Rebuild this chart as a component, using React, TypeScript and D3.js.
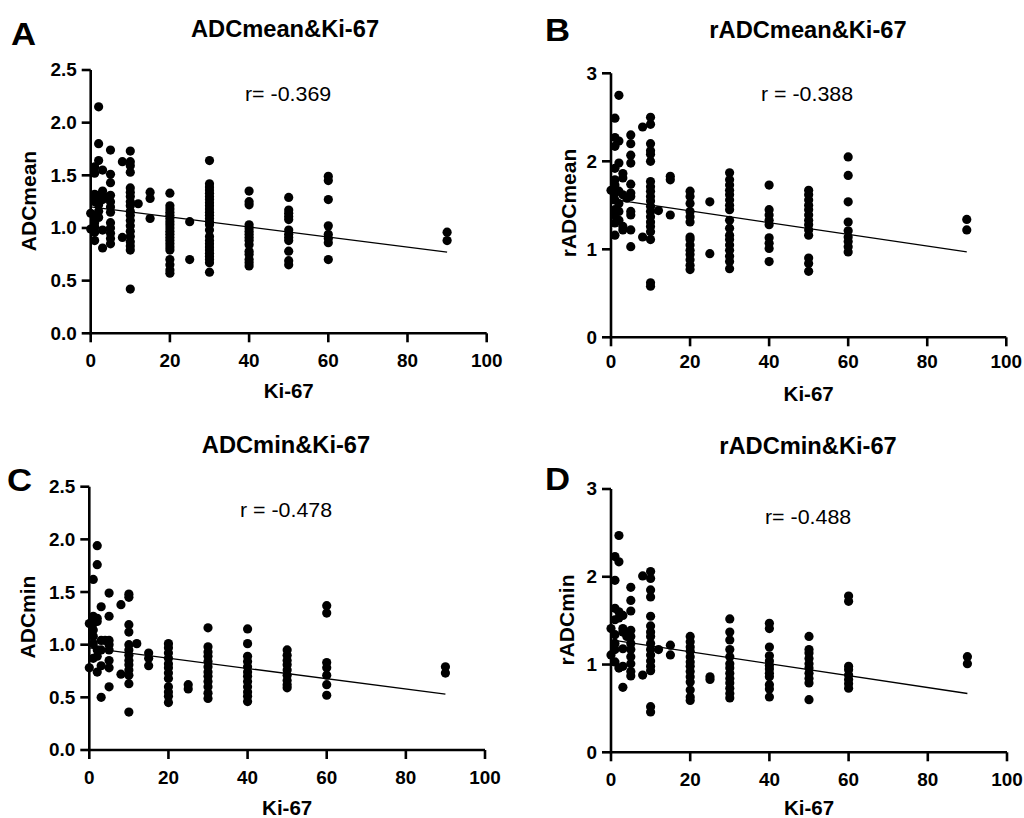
import React from "react";
import * as d3 from "d3";

// Ki-67 value -> measured values at that Ki-67 level
const adcMeanByKi: [number, number[]][] = [
  [0, [1.14, 0.99]],
  [1, [1.58, 1.52, 1.32, 1.25, 1.10, 1.05, 1.01, 0.96, 0.88]],
  [2, [2.15, 1.80, 1.64, 1.31, 1.22, 1.16, 1.10]],
  [3, [1.55, 1.35, 1.27, 0.98, 0.81]],
  [4, [1.29]],
  [5, [1.74, 1.51, 1.43, 1.31, 1.25, 1.20, 1.15, 1.05, 1.00, 0.95, 0.90, 0.85]],
  [8, [1.63, 0.91]],
  [10, [1.73, 1.63, 1.59, 1.53, 1.38, 1.34, 1.30, 1.25, 1.21, 1.16, 1.12, 1.07, 1.02, 0.97, 0.92, 0.87, 0.83, 0.79, 0.42]],
  [12, [1.23]],
  [15, [1.34, 1.28, 1.09]],
  [20, [1.33, 1.21, 1.18, 1.15, 1.12, 1.09, 1.06, 1.03, 1.00, 0.97, 0.94, 0.91, 0.88, 0.85, 0.82, 0.79, 0.70, 0.65, 0.60, 0.57]],
  [25, [1.06, 0.70]],
  [30, [1.64, 1.42, 1.39, 1.36, 1.33, 1.30, 1.27, 1.24, 1.21, 1.18, 1.15, 1.12, 1.09, 1.06, 1.03, 0.98, 0.92, 0.88, 0.85, 0.82, 0.79, 0.76, 0.73, 0.70, 0.67, 0.58]],
  [40, [1.35, 1.25, 1.22, 1.03, 1.00, 0.97, 0.94, 0.91, 0.88, 0.84, 0.78, 0.75, 0.70, 0.67, 0.64]],
  [50, [1.29, 1.17, 1.14, 1.11, 1.08, 0.98, 0.94, 0.91, 0.88, 0.78, 0.69, 0.65]],
  [60, [1.49, 1.45, 1.27, 1.02, 0.94, 0.90, 0.86, 0.70]],
  [90, [0.96, 0.88]],
];

const rAdcMeanByKi: [number, number[]][] = [
  [0, [1.67]],
  [1, [2.49, 2.27, 2.17, 1.92, 1.79, 1.73, 1.64, 1.56, 1.45, 1.39, 1.30, 1.16]],
  [2, [2.75, 2.23, 1.98, 1.66, 1.52, 1.43, 1.33]],
  [3, [1.86, 1.81, 1.62, 1.26, 1.22]],
  [4, [1.58]],
  [5, [2.30, 2.20, 2.07, 1.98, 1.74, 1.64, 1.60, 1.43, 1.39, 1.22, 1.03]],
  [8, [2.39, 1.14]],
  [10, [2.50, 2.42, 2.20, 2.12, 2.08, 2.00, 1.77, 1.71, 1.66, 1.60, 1.55, 1.49, 1.43, 1.37, 1.31, 1.26, 1.20, 1.11, 0.62, 0.58]],
  [12, [1.44]],
  [15, [1.83, 1.79, 1.39]],
  [20, [1.66, 1.60, 1.52, 1.43, 1.37, 1.31, 1.14, 1.11, 1.05, 0.99, 0.94, 0.88, 0.82, 0.77]],
  [25, [1.54, 0.95]],
  [30, [1.87, 1.79, 1.73, 1.67, 1.62, 1.56, 1.50, 1.45, 1.33, 1.24, 1.16, 1.11, 1.05, 0.99, 0.92, 0.86, 0.78]],
  [40, [1.73, 1.45, 1.39, 1.33, 1.28, 1.13, 1.07, 1.01, 0.86]],
  [50, [1.67, 1.62, 1.56, 1.50, 1.45, 1.39, 1.33, 1.28, 1.22, 1.16, 0.90, 0.84, 0.75]],
  [60, [2.05, 1.84, 1.54, 1.31, 1.21, 1.14, 1.09, 1.03, 0.97]],
  [90, [1.34, 1.22]],
];

const adcMinByKi: [number, number[]][] = [
  [0, [1.20, 0.78]],
  [1, [1.62, 1.27, 1.20, 1.14, 1.08, 1.01, 0.87]],
  [2, [1.94, 1.76, 1.25, 1.22, 0.95, 0.89, 0.74]],
  [3, [1.36, 1.04, 0.95, 0.80, 0.50]],
  [4, [1.04]],
  [5, [1.49, 1.27, 1.04, 1.00, 0.95, 0.85, 0.78, 0.60]],
  [8, [1.38, 0.72]],
  [10, [1.48, 1.45, 1.19, 1.12, 1.00, 0.95, 0.90, 0.85, 0.81, 0.76, 0.71, 0.63, 0.36]],
  [12, [1.01]],
  [15, [0.92, 0.87, 0.80]],
  [20, [1.01, 0.97, 0.92, 0.87, 0.82, 0.78, 0.73, 0.68, 0.60, 0.55, 0.51, 0.45]],
  [25, [0.62, 0.58]],
  [30, [1.16, 0.98, 0.93, 0.89, 0.84, 0.79, 0.74, 0.70, 0.65, 0.60, 0.54, 0.49]],
  [40, [1.15, 1.01, 0.89, 0.84, 0.79, 0.74, 0.70, 0.65, 0.60, 0.55, 0.51, 0.46]],
  [50, [0.95, 0.90, 0.85, 0.81, 0.76, 0.71, 0.66, 0.62, 0.59]],
  [60, [1.37, 1.30, 0.83, 0.78, 0.71, 0.62, 0.52]],
  [90, [0.79, 0.73]],
];

const rAdcMinByKi: [number, number[]][] = [
  [0, [1.41, 1.11]],
  [1, [2.23, 1.96, 1.64, 1.51, 1.34, 1.24, 1.17, 1.03]],
  [2, [2.47, 2.17, 1.60, 1.53, 0.96]],
  [3, [1.56, 1.41, 1.37, 1.18, 0.98, 0.74]],
  [4, [1.32]],
  [5, [1.88, 1.73, 1.61, 1.39, 1.32, 1.24, 1.17, 1.09, 1.01, 0.92, 0.87]],
  [8, [2.01, 0.88]],
  [10, [2.06, 1.98, 1.85, 1.77, 1.55, 1.44, 1.37, 1.32, 1.24, 1.17, 1.11, 1.04, 0.98, 0.93, 0.52, 0.46]],
  [12, [1.17]],
  [15, [1.22, 1.11]],
  [20, [1.32, 1.26, 1.20, 1.15, 1.09, 1.03, 0.98, 0.92, 0.86, 0.80, 0.71, 0.63, 0.59]],
  [25, [0.86, 0.83]],
  [30, [1.52, 1.37, 1.28, 1.17, 1.09, 1.01, 0.96, 0.90, 0.84, 0.79, 0.73, 0.67, 0.62]],
  [40, [1.47, 1.41, 1.20, 1.10, 1.04, 0.99, 0.95, 0.90, 0.86, 0.77, 0.72, 0.63]],
  [50, [1.32, 1.17, 1.13, 1.07, 1.01, 0.96, 0.90, 0.84, 0.79, 0.60]],
  [60, [1.78, 1.72, 0.98, 0.94, 0.88, 0.83, 0.78, 0.73]],
  [90, [1.09, 1.01]],
];

// regression line values at Ki-67 = 0 and 90
const fitKi = [0, 90];
const fitAdcMean = [1.2, 0.77];
const fitRAdcMean = [1.57, 0.97];
const fitAdcMin = [0.97, 0.53];
const fitRAdcMin = [1.28, 0.67];

const xTicks = [0, 20, 40, 60, 80, 100];
const yTicksAdc = [0, 0.5, 1, 1.5, 2, 2.5];
const yTicksRAdc = [0, 1, 2, 3];

const FONT = "'Liberation Sans', Arial, Helvetica, sans-serif";

function Txt({ x, y, size, bold = true, sx = 1, anchor = "start", rotate = false, dy, children }: any) {
  const t = `translate(${x},${y})${rotate ? " rotate(-90)" : ""} scale(${sx},1)`;
  return (
    <text
      transform={t}
      fontFamily={FONT}
      fontSize={size}
      fontWeight={bold ? "bold" : "normal"}
      textAnchor={anchor}
      dy={dy}
      fill="#000"
    >
      {children}
    </text>
  );
}

function Panel({ p }: any) {
  const x = d3.scaleLinear().domain([0, 100]).range([p.x0, p.x1]);
  const y = d3.scaleLinear().domain([0, p.yMax]).range([p.y0, p.y1]);
  const fmt = p.yMax === 3 ? d3.format("d") : d3.format(".1f");
  const pts = p.data.flatMap(([k, vs]: [number, number[]]) => vs.map((v) => [k, v]));
  const line = d3.line<number>().x((_, i) => x(fitKi[i])).y((d) => y(d));
  const tick = 9;
  const sw = 2.6;
  const midX = (p.x0 + p.x1) / 2;
  return (
    <g>
      {/* axes */}
      <line x1={p.x0} x2={p.x0} y1={p.y0 + 1} y2={p.y1} stroke="#000" strokeWidth={sw} />
      <line x1={p.x0 - 1} x2={p.x1} y1={p.y0} y2={p.y0} stroke="#000" strokeWidth={sw} />
      {p.yTicks.map((t: number) => (
        <g key={"y" + t}>
          <line x1={p.x0 - tick} x2={p.x0} y1={y(t)} y2={y(t)} stroke="#000" strokeWidth={sw} />
          <Txt x={p.x0 - 14} y={y(t)} size={18} sx={1.05} anchor="end" dy="0.36em">
            {fmt(t)}
          </Txt>
        </g>
      ))}
      {xTicks.map((t) => (
        <g key={"x" + t}>
          <line x1={x(t)} x2={x(t)} y1={p.y0} y2={p.y0 + tick} stroke="#000" strokeWidth={sw} />
          <Txt x={x(t)} y={p.xLabY} size={18} sx={1.05} anchor="middle">
            {t}
          </Txt>
        </g>
      ))}
      {/* points */}
      {pts.map((d: number[], i: number) => (
        <circle key={i} cx={x(d[0])} cy={y(d[1])} r={4.6} fill="#000" />
      ))}
      <path d={line(p.fit) || ""} fill="none" stroke="#000" strokeWidth={1.3} />
      {/* texts */}
      <Txt x={p.letterX} y={p.letterY} size={31} sx={1.12}>
        {p.letter}
      </Txt>
      <Txt x={p.titleX} y={p.titleY} size={23} sx={1.03} anchor="middle">
        {p.title}
      </Txt>
      <Txt x={p.rX} y={p.rY} size={20} bold={false} sx={1.07}>
        {p.r}
      </Txt>
      <Txt x={midX} y={p.xTitleY} size={20.5} anchor="middle">
        Ki-67
      </Txt>
      <Txt x={p.yTitleX} y={p.yTitleY} size={21} rotate anchor="middle">
        {p.yLabel}
      </Txt>
    </g>
  );
}

const panels = [
  {
    letter: "A", title: "ADCmean&Ki-67", yLabel: "ADCmean", r: "r= -0.369",
    data: adcMeanByKi, fit: fitAdcMean, yMax: 2.5, yTicks: yTicksAdc,
    x0: 90.7, x1: 486.7, y0: 333.3, y1: 70,
    letterX: 11, letterY: 45, titleX: 285, titleY: 37, rX: 245, rY: 101,
    xLabY: 367, xTitleY: 398, yTitleX: 36, yTitleY: 201,
  },
  {
    letter: "B", title: "rADCmean&Ki-67", yLabel: "rADCmean", r: "r = -0.388",
    data: rAdcMeanByKi, fit: fitRAdcMean, yMax: 3, yTicks: yTicksRAdc,
    x0: 611, x1: 1006.3, y0: 337.3, y1: 73.3,
    letterX: 545, letterY: 41, titleX: 808, titleY: 38, rX: 761, rY: 101,
    xLabY: 368, xTitleY: 401, yTitleX: 576, yTitleY: 203,
  },
  {
    letter: "C", title: "ADCmin&Ki-67", yLabel: "ADCmin", r: "r = -0.478",
    data: adcMinByKi, fit: fitAdcMin, yMax: 2.5, yTicks: yTicksAdc,
    x0: 89.3, x1: 485, y0: 750, y1: 486.7,
    letterX: 7, letterY: 491, titleX: 286, titleY: 453, rX: 240, rY: 517,
    xLabY: 784, xTitleY: 815, yTitleX: 35, yTitleY: 617,
  },
  {
    letter: "D", title: "rADCmin&Ki-67", yLabel: "rADCmin", r: "r= -0.488",
    data: rAdcMinByKi, fit: fitRAdcMin, yMax: 3, yTicks: yTicksRAdc,
    x0: 611, x1: 1007, y0: 752.3, y1: 489,
    letterX: 545, letterY: 490, titleX: 808, titleY: 454, rX: 765, rY: 524,
    xLabY: 786, xTitleY: 815, yTitleX: 574, yTitleY: 620,
  },
];

export default function App() {
  return (
    <svg
      width={1024}
      height={818}
      style={{ position: "absolute", left: 0, top: 0, background: "#fff" }}
    >
      <rect width={1024} height={818} fill="#fff" />
      {panels.map((p) => (
        <Panel key={p.letter} p={p} />
      ))}
    </svg>
  );
}
